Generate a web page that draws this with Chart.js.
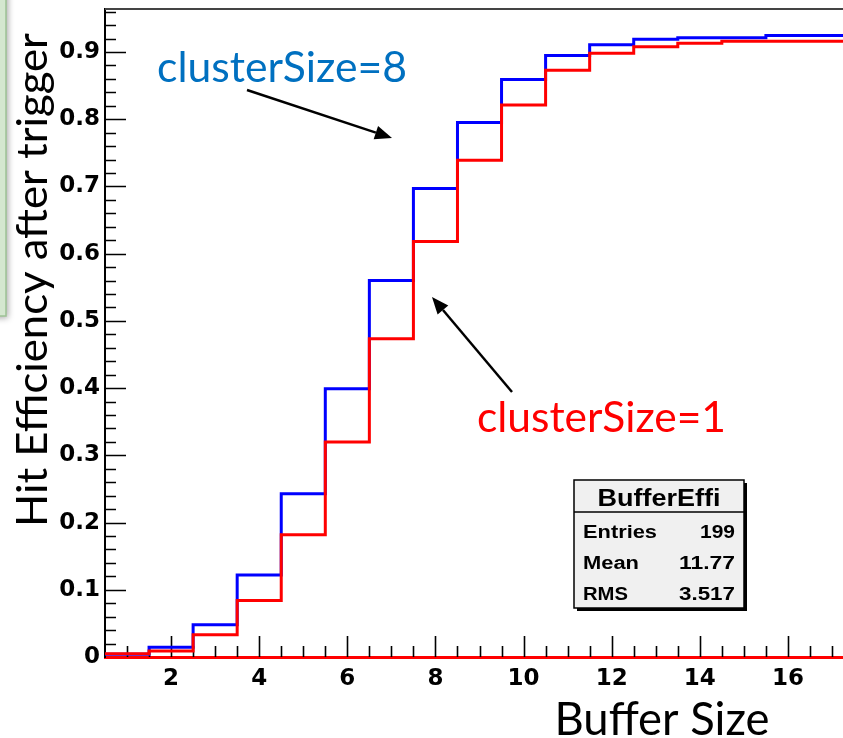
<!DOCTYPE html>
<html>
<head>
<meta charset="utf-8">
<script src="https://cdn.jsdelivr.net/npm/chart.js@4.4.1/dist/chart.umd.min.js"></script>
<style>
html, body { margin: 0; padding: 0; background: #fff; overflow: hidden; }
#wrap { width: 843px; height: 738px; position: relative; }
</style>
</head>
<body>
<div id="wrap"><canvas id="bufferEffi" width="843" height="738"></canvas></div>
<script>
// histogram bins (centres), width 1
const binCenters = [1, 2, 3, 4, 5, 6, 7, 8, 9, 10, 11, 12, 13, 14, 15, 16, 17];
const binWidth = 1;

// hit efficiency after trigger, per buffer size
const effCluster8 = [0.004, 0.0146, 0.048, 0.122, 0.243, 0.399, 0.560, 0.697, 0.795, 0.859,
                     0.895, 0.911, 0.919, 0.9214, 0.9214, 0.9245, 0.9245];
const effCluster1 = [0.005, 0.009, 0.033, 0.084, 0.182, 0.320, 0.4735, 0.618, 0.739, 0.821,
                     0.873, 0.898, 0.908, 0.913, 0.916, 0.916, 0.916];

const xTickLabels = ['2', '4', '6', '8', '10', '12', '14', '16'];
const yTickLabels = ['0', '0.1', '0.2', '0.3', '0.4', '0.5', '0.6', '0.7', '0.8', '0.9'];

const statsTitle = 'BufferEffi';
const statsRows = [['Entries', '199'], ['Mean', '11.77'], ['RMS', '3.517']];

function toSteps(values) {
    const pts = binCenters.map((c, i) => ({ x: c - binWidth / 2, y: values[i] }));
    pts.push({ x: binCenters[binCenters.length - 1] + binWidth / 2, y: values[values.length - 1] });
    return pts;
}

// draw text squeezed/stretched to a given width
function fitText(ctx, text, x, y, w, align) {
    const m = ctx.measureText(text).width;
    ctx.save();
    ctx.translate(x, y);
    ctx.scale(w / m, 1);
    ctx.textAlign = align || 'left';
    ctx.fillText(text, 0, 0);
    ctx.restore();
}

function arrow(ctx, x1, y1, x2, y2) {
    const ang = Math.atan2(y2 - y1, x2 - x1);
    const len = 17, half = 7;
    const bx = x2 - len * Math.cos(ang), by = y2 - len * Math.sin(ang);
    ctx.save();
    ctx.strokeStyle = '#000';
    ctx.fillStyle = '#000';
    ctx.lineWidth = 2.5;
    ctx.beginPath();
    ctx.moveTo(x1, y1);
    ctx.lineTo(bx, by);
    ctx.stroke();
    ctx.beginPath();
    ctx.moveTo(x2, y2);
    ctx.lineTo(bx + half * Math.sin(ang), by - half * Math.cos(ang));
    ctx.lineTo(bx - half * Math.sin(ang), by + half * Math.cos(ang));
    ctx.closePath();
    ctx.fill();
    ctx.restore();
}

// ROOT style ticks pointing into the frame
const innerTicks = {
    id: 'innerTicks',
    beforeDatasetsDraw(chart) {
        const ctx = chart.ctx, a = chart.chartArea;
        const xs = chart.scales.x, ys = chart.scales.y;
        ctx.save();
        ctx.strokeStyle = '#000';
        ctx.lineWidth = 1.6;
        ctx.beginPath();
        for (let k = 2; k <= 34; k++) {
            const v = k / 2;
            if (v <= xs.min || v >= xs.max) continue;
            const px = Math.round(xs.getPixelForValue(v)) + 0.5;
            const len = (k % 4 === 0) ? 21 : 11;
            ctx.moveTo(px, a.bottom);
            ctx.lineTo(px, a.bottom - len);
        }
        for (let k = 1; k <= 48; k++) {
            const v = k * 0.02;
            if (v >= ys.max) continue;
            const py = Math.round(ys.getPixelForValue(v)) + 0.5;
            const len = (k % 5 === 0) ? 21 : 11;
            ctx.moveTo(a.left, py);
            ctx.lineTo(a.left + len, py);
        }
        ctx.stroke();
        // top of frame
        ctx.strokeStyle = '#444';
        ctx.lineWidth = 2;
        ctx.beginPath();
        ctx.moveTo(a.left, a.top);
        ctx.lineTo(a.right, a.top);
        ctx.stroke();
        ctx.restore();
    }
};

const decorations = {
    id: 'decorations',
    afterDraw(chart) {
        const ctx = chart.ctx;
        ctx.save();

        // slide box at the left edge
        ctx.shadowColor = 'rgba(0,0,0,0.35)';
        ctx.shadowBlur = 6;
        ctx.shadowOffsetX = 2;
        ctx.shadowOffsetY = 2;
        ctx.fillStyle = '#d4e7cf';
        ctx.fillRect(-10, -10, 16, 326);
        ctx.shadowColor = 'transparent';
        ctx.strokeStyle = '#9dc294';
        ctx.lineWidth = 1.5;
        ctx.strokeRect(-10, -10, 16, 326);

        // axis titles
        ctx.fillStyle = '#000';
        ctx.textBaseline = 'alphabetic';
        ctx.font = '46px Lato';
        fitText(ctx, 'Buffer Size', 662, 735, 215, 'center');

        ctx.save();
        ctx.translate(47, 280);
        ctx.rotate(-Math.PI / 2);
        ctx.font = '42px Lato';
        fitText(ctx, 'Hit Efficiency after trigger', 0, 0, 494, 'center');
        ctx.restore();

        // annotations
        ctx.font = '42px Lato';
        ctx.fillStyle = '#0070c0';
        fitText(ctx, 'clusterSize=8', 157, 82, 250, 'left');
        ctx.fillStyle = '#ff0000';
        fitText(ctx, 'clusterSize=1', 477, 432, 249, 'left');
        arrow(ctx, 247, 90, 392, 138);
        arrow(ctx, 512, 392, 432, 297);

        // stats box
        const bx = 574, by = 480, bw = 170, bh = 128;
        ctx.fillStyle = '#000';
        ctx.fillRect(bx + 3, by + 3, bw, bh);
        ctx.fillStyle = '#f0f0f0';
        ctx.fillRect(bx, by, bw, bh);
        ctx.strokeStyle = '#000';
        ctx.lineWidth = 1.5;
        ctx.strokeRect(bx, by, bw, bh);
        ctx.beginPath();
        ctx.moveTo(bx, 512);
        ctx.lineTo(bx + bw, 512);
        ctx.stroke();

        ctx.fillStyle = '#000';
        ctx.font = 'bold 23px "Liberation Sans"';
        fitText(ctx, statsTitle, 659, 506, 123, 'center');
        ctx.font = 'bold 18px "Liberation Sans"';
        const rowBase = [538, 569, 600];
        const labelW = [74, 56, 45];
        const valueW = [35, 56, 56];
        statsRows.forEach((r, i) => {
            fitText(ctx, r[0], 583, rowBase[i], labelW[i], 'left');
            fitText(ctx, r[1], 735, rowBase[i], valueW[i], 'right');
        });

        ctx.restore();
    }
};

new Chart(document.getElementById('bufferEffi'), {
    type: 'line',
    data: {
        datasets: [{
            label: 'clusterSize=1',
            data: toSteps(effCluster1),
            borderColor: '#ff0000',
            borderWidth: 3,
            stepped: 'before',
            pointRadius: 0,
            fill: false
        }, {
            label: 'clusterSize=8',
            data: toSteps(effCluster8),
            borderColor: '#0000ff',
            borderWidth: 3,
            stepped: 'before',
            pointRadius: 0,
            fill: false
        }]
    },
    options: {
        responsive: false,
        animation: false,
        devicePixelRatio: 1,
        layout: { padding: { top: 9, right: 0, left: 0, bottom: 0 } },
        plugins: {
            legend: { display: false },
            tooltip: { enabled: false }
        },
        scales: {
            x: {
                type: 'linear',
                min: 0.5,
                max: 17.25,
                afterFit(s) { s.height = 81; s.paddingLeft = 0; s.paddingRight = 0; },
                grid: { display: false, drawTicks: false },
                border: { display: true, color: '#ff0000', width: 3 },
                ticks: {
                    stepSize: 2,
                    includeBounds: false,
                    maxRotation: 0,
                    autoSkip: false,
                    padding: 8,
                    color: '#000',
                    font: { family: 'DejaVu Sans', weight: 'bold', size: 23 },
                    callback: v => xTickLabels.includes(String(v)) ? String(v) : ''
                }
            },
            y: {
                min: 0,
                max: 0.964,
                afterFit(s) { s.width = 105; s.paddingTop = 0; s.paddingBottom = 0; },
                grid: { display: false, drawTicks: false },
                border: { display: true, color: '#000', width: 2 },
                ticks: {
                    stepSize: 0.1,
                    includeBounds: false,
                    autoSkip: false,
                    padding: 5,
                    color: '#000',
                    font: { family: 'DejaVu Sans', weight: 'bold', size: 23 },
                    callback: v => yTickLabels[Math.round(v * 10)] || ''
                }
            }
        }
    },
    plugins: [innerTicks, decorations]
});
</script>
</body>
</html>
